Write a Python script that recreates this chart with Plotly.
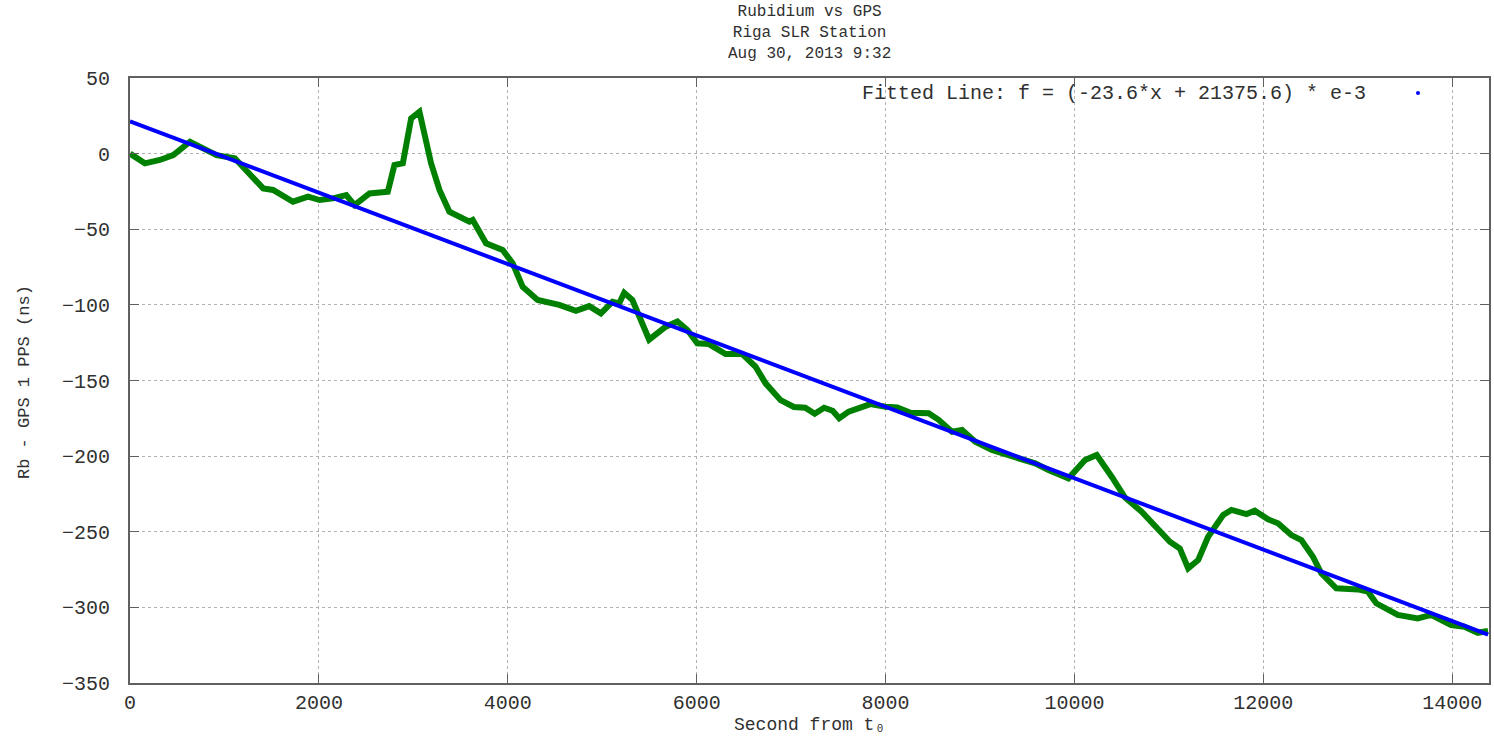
import plotly.graph_objects as go

# Measured data: seconds from t0, Rb - GPS 1 PPS (ns)
seconds = [0, 158, 316, 458, 635, 775, 916, 1110, 1233, 1410, 1515, 1726, 1885, 2008,
           2149, 2290, 2378, 2536, 2730, 2800, 2889, 2977, 3065, 3188, 3277, 3382, 3594,
           3629, 3770, 3946, 4052, 4157, 4316, 4545, 4722, 4862, 4986, 5109, 5180, 5233,
           5320, 5497, 5673, 5796, 5902, 6007, 6130, 6307, 6483, 6624, 6730, 6889, 7030,
           7150, 7250, 7350, 7440, 7510, 7610, 7716, 7840, 8000, 8124, 8265, 8457, 8562,
           8704, 8810, 8950, 9127, 9373, 9584, 9725, 9937, 10113, 10236, 10395, 10536,
           10712, 10888, 11011, 11116, 11205, 11311, 11416, 11575, 11663, 11822, 11910,
           12051, 12156, 12297, 12403, 12526, 12614, 12773, 13002, 13108, 13196, 13425,
           13636, 13777, 13989, 14130, 14271, 14380]
offset_ns = [0, -6.4, -4.2, -1, 7.9, 3.5, -1, -3.1, -10.8, -23, -24, -31.8, -28.5, -30.7,
             -29.6, -27.4, -34, -26.3, -25.2, -7.5, -6.4, 23.3, 27.7, -6.4, -24, -38.4, -45,
             -43.9, -59.3, -63.7, -72.5, -88, -96.8, -100, -104, -100.8, -105.6, -97.9, -99, -92,
             -96.8, -123, -114.4, -111, -116.6, -125.4, -125.9, -132.5, -132.5, -140.9, -151.9, -163, -167.5,
             -168, -172, -168, -170, -175, -170.6, -168.4, -165.6, -167.3, -167.8, -171.3, -171.7, -176,
             -183.9, -182.7, -190.5, -196, -200.4, -204.8, -209.2, -214.7, -202.6, -199.3, -213.6, -227.4,
             -236.7, -247.8, -256.6, -261, -274.2, -268.7, -253.3, -238.9, -235.6, -238.3, -236.1,
             -241.8, -244.4, -252.2, -255.5, -266.5, -277.5, -287.4, -288.1, -289.6, -297.3, -305,
             -307.3, -305, -311.7, -312.8, -316.8, -315.6]

# Fitted line coefficients: f = (slope*x + intercept) * e-3
fit_slope = -23.6
fit_intercept = 21375.6
fit_x = [min(seconds), max(seconds)]
fit_y = [(fit_slope * x + fit_intercept) * 1e-3 for x in fit_x]

x_ticks = [0, 2000, 4000, 6000, 8000, 10000, 12000, 14000]
x_tick_labels = [str(v) for v in x_ticks]
y_ticks = [50, 0, -50, -100, -150, -200, -250, -300, -350]

FONT = "Liberation Mono, Courier New, monospace"
TXT = "#303030"

W, H = 1494, 737
PLOT_L, PLOT_R, PLOT_T, PLOT_B = 130, 1489, 78, 683
PLOT_W = PLOT_R - PLOT_L
PLOT_H = PLOT_B - PLOT_T


def px(xp):
    return (xp - PLOT_L) / PLOT_W


def py(yp):
    return (PLOT_B - yp) / PLOT_H


fig = go.Figure()
fig.add_trace(go.Scatter(x=seconds, y=offset_ns, mode="lines",
                         line=dict(color="rgb(0,128,0)", width=6), showlegend=False))
fig.add_trace(go.Scatter(x=fit_x, y=fit_y, mode="lines",
                         line=dict(color="rgb(0,0,255)", width=4), showlegend=False))

axis_common = dict(showline=True, linecolor="#606060", linewidth=2, mirror="ticks",
                   ticks="inside", ticklen=9, tickcolor="#606060", tickwidth=1,
                   showgrid=True, gridcolor="#b0b0b0", gridwidth=1, griddash="dot",
                   zeroline=False, automargin=False,
                   tickfont=dict(family=FONT, size=20, color=TXT))

fig.update_xaxes(range=[0, 14390], tickvals=x_ticks, ticktext=x_tick_labels,
                 ticklabelstandoff=0, **axis_common)
fig.update_yaxes(range=[-350, 50], tickvals=y_ticks, ticklabelstandoff=14, **axis_common)

annotations = [
    dict(text="Rubidium vs GPS<br>Riga SLR Station<br>Aug 30, 2013 9:32",
         xref="paper", yref="paper", x=0.5, y=py(33),
         xanchor="center", yanchor="middle", showarrow=False, align="center",
         font=dict(family=FONT, size=16, color=TXT)),
    dict(text="Fitted Line: f = (-23.6*x + 21375.6) * e-3",
         xref="paper", yref="paper", x=px(1368), y=py(93),
         xanchor="right", yanchor="middle", showarrow=False,
         font=dict(family=FONT, size=20, color=TXT)),
    dict(text="Second from t₀", xref="paper", yref="paper",
         x=0.5, y=py(725), xanchor="center", yanchor="middle",
         showarrow=False, font=dict(family=FONT, size=18, color=TXT)),
    dict(text="Rb - GPS 1 PPS (ns)", xref="paper", yref="paper",
         x=px(25), y=py(382), xanchor="center", yanchor="middle",
         textangle=-90, showarrow=False, font=dict(family=FONT, size=17, color=TXT)),
]

fig.update_layout(
    width=W, height=H,
    margin=dict(l=PLOT_L, r=W - PLOT_R, t=PLOT_T, b=H - PLOT_B),
    paper_bgcolor="white", plot_bgcolor="white",
    annotations=annotations,
    shapes=[dict(type="circle", xref="paper", yref="paper",
                 x0=px(1416), x1=px(1420), y0=py(95), y1=py(91),
                 fillcolor="rgb(0,0,255)", line=dict(color="rgb(0,0,255)", width=0))],
)

# Remove the default 8px page margin so the figure fills the window exactly.
fig.write_html("out.html", config={"displayModeBar": False},
               post_script="document.body.style.margin='0px';")
